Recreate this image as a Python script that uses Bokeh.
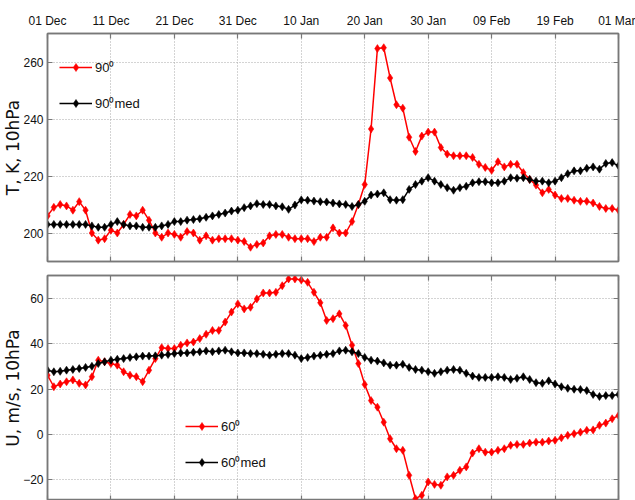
import numpy as np
from bokeh.plotting import figure
from bokeh.layouts import column
from bokeh.models import Range1d, LinearAxis, Legend, LegendItem
from bokeh.embed import file_html
from bokeh.resources import INLINE

# ---------------- data (daily, 01 Dec .. 01 Mar) ----------------
tick_days = [0, 10, 20, 30, 40, 50, 60, 70, 80, 90]
tick_labels = ["01 Dec", "11 Dec", "21 Dec", "31 Dec", "10 Jan",
               "20 Jan", "30 Jan", "09 Feb", "19 Feb", "01 Mar"]

t_ticks = [200, 220, 240, 260]
u_ticks = [-20, 0, 20, 40, 60]

t90 = [206, 209, 210, 209.5, 208, 211, 208, 200, 197.5, 198,
       201, 200, 203, 206.5, 206, 208, 204.5, 200, 198.5, 200,
       199.5, 198.5, 200.5, 200, 197.5, 199, 197.5, 198, 198, 198,
       197.5, 197, 195, 196, 196.5, 199, 199.5, 199.5, 198.5, 198,
       198, 198, 197, 198.5, 198.5, 201.8, 200, 200, 204, 210,
       217, 236.5, 264.7, 265, 254.4, 245, 243.8, 233.6, 228.6, 234,
       235.4, 235.4, 230, 227.7, 227.1, 227.1, 227.1, 226.5, 224.1, 223,
       222, 225, 223.2, 224.1, 224.1, 221.2, 218.8, 216.8, 214.1, 215.3,
       213.3, 212.1, 212.1, 211.5, 211.1, 211.1, 210.5, 209.3, 208.6, 208.6,
       208]

t90_med = [203, 203, 203, 203, 203, 203, 203, 202.5, 202, 202,
           203, 204, 203, 202.5, 202.5, 202, 202, 202, 202.5, 203,
           204, 204, 204.5, 204.7, 205, 205.5, 206, 206.5, 207, 207.7,
           208, 208.9, 209.5, 210.3, 210, 210, 209.5, 209.2, 208.3, 209.8,
           211.6, 211.5, 211.2, 211, 210.9, 210.5, 210.2, 210, 209.3, 210,
           211.1, 213.3, 213.7, 214.1, 211.7, 211.5, 211.7, 215.3, 217, 218.2,
           219.4, 218.2, 217, 215.9, 215, 215.9, 216.4, 217.6, 218, 218,
           217.6, 217.6, 218.2, 219.4, 219.2, 219.4, 218.8, 218.2, 218.2, 217.6,
           218.2, 219.4, 220.8, 221.8, 221.8, 222.7, 223.2, 222.4, 224.4, 224.7,
           223.6]

u60 = [26.1, 21, 22.2, 23.2, 24, 22.5, 21.8, 25.4, 32.7, 32,
       31.2, 30.5, 27.6, 26.1, 25.4, 23.2, 28.3, 33.4, 38.2, 37.8,
       37.8, 39.3, 40.3, 40.7, 42.2, 44.1, 45.8, 45.8, 49.5, 53.9,
       57.5, 55.3, 56, 59.7, 62.3, 62.3, 62.6, 65.5, 68.5, 68.5,
       68, 67, 62.6, 58, 50.2, 51, 53.1, 48, 39.3, 31.2,
       22, 14.9, 12, 5.4, -1.9, -6.3, -7, -18, -28.3, -26.8,
       -20.9, -22, -22.4, -18.7, -18, -15.8, -14.3, -8.2, -6.3, -7.8,
       -7.8, -7, -6.3, -4.8, -4.4, -4.4, -3.8, -3.4, -3.4, -2.9,
       -2.6, -1.5, -0.4, 0.3, 1, 1.8, 2, 4, 5, 6.9,
       8.3]

u60_med = [28.3, 27.6, 27.8, 28.3, 28.6, 29, 29.5, 30, 31.2, 32,
           32.7, 33.1, 33.4, 33.9, 34.2, 34.5, 34.5, 34.6, 34.9, 35.2,
           35.6, 35.9, 35.9, 36.2, 36.4, 36.8, 36.4, 36.8, 37.1, 36.4,
           35.9, 35.9, 35.6, 35.6, 35.3, 34.9, 35.3, 35.6, 35.6, 34.9,
           33.4, 33.9, 34.5, 34.9, 35.3, 35.6, 36.8, 37.1, 36.4, 35.6,
           33.9, 32.7, 32.3, 31.5, 30.5, 30.5, 30.9, 29.5, 28.6, 28.3,
           27.6, 26.9, 27.6, 28.3, 28.6, 28.3, 26.9, 25.7, 25.1, 25.1,
           25.1, 25.4, 25.1, 24.2, 24.7, 25.4, 24.2, 22.8, 22.5, 23.6,
           22.2, 21, 20.3, 19.9, 19.8, 19.3, 17.6, 16.7, 17.1, 17.1,
           17.6]

days = np.arange(len(t90))

# ---------------- styling ----------------
FRAME = "#787878"
GRID = "#a8a8a8"
SANS = "Liberation Sans"


def make_panel(height, top, bottom, yr, yticks, ylabel, show_top_labels):
    p = figure(width=635, height=height, x_range=Range1d(0, 90),
               y_range=Range1d(*yr), x_axis_location="above",
               y_axis_location="left", output_backend="svg",
               toolbar_location=None, min_border_left=44,
               min_border_right=17, min_border_top=top,
               min_border_bottom=bottom)
    p.add_layout(LinearAxis(), "below")
    p.add_layout(LinearAxis(), "right")
    p.xaxis.ticker = tick_days
    p.xaxis.major_label_overrides = {d: l for d, l in zip(tick_days, tick_labels)}
    p.yaxis.ticker = yticks
    for ax in p.axis:
        ax.axis_line_color = FRAME
        ax.axis_line_width = 1.5
        ax.major_tick_line_color = FRAME
        ax.major_tick_line_width = 1.2
        ax.major_tick_in = 5
        ax.major_tick_out = 0
        ax.minor_tick_line_color = None
        ax.major_label_text_font = SANS
        ax.major_label_text_font_size = "12px"
        ax.major_label_text_color = "#111111"
    hidden = [p.below[0], p.right[0]]
    if not show_top_labels:
        hidden.append(p.above[0])
    for ax in hidden:
        ax.major_label_text_color = None
        ax.major_label_text_font_size = "1px"
        ax.major_label_standoff = 0
    if show_top_labels:
        p.above[0].major_label_standoff = 6
    la = p.left[0]
    la.major_label_standoff = 4
    la.axis_label = ylabel
    la.axis_label_text_font = "DejaVu Sans"
    la.axis_label_text_font_size = "17px"
    la.axis_label_text_font_style = "normal"
    la.axis_label_text_color = "#111111"
    la.axis_label_standoff = -3
    p.grid.grid_line_color = GRID
    p.grid.grid_line_dash = "1 2"
    p.grid.grid_line_width = 1
    p.outline_line_color = FRAME
    p.outline_line_width = 1.5
    p.background_fill_color = "white"
    p.border_fill_color = "white"
    return p


def add_series(p, y, color):
    ln = p.line(days, y, line_color=color, line_width=1.5)
    sc = p.scatter(days, y, marker="diamond", size=8, fill_color=color,
                   line_color=color, line_width=0.6)
    return [ln, sc]


top = make_panel(268, 33, 7, (190, 270), t_ticks, "T, K, 10hPa", True)
r1 = add_series(top, t90, "#ff0000")
r2 = add_series(top, t90_med, "#000000")
leg1 = Legend(items=[LegendItem(label="90\u2070", renderers=r1),
                     LegendItem(label="90\u2070med", renderers=r2)],
              location=(12, 148))
top.add_layout(leg1)

bot = make_panel(232, 7, 0, (-29.1, 70), u_ticks, "U, m/s, 10hPa", False)
r3 = add_series(bot, u60, "#ff0000")
r4 = add_series(bot, u60_med, "#000000")
leg2 = Legend(items=[LegendItem(label="60\u2070", renderers=r3),
                     LegendItem(label="60\u2070med", renderers=r4)],
              location=(138, 28))
bot.add_layout(leg2)

for lg in (leg1, leg2):
    lg.padding = 0
    lg.margin = 0
    lg.spacing = 16
    lg.glyph_width = 33
    lg.glyph_height = 20
    lg.label_standoff = 3
    lg.label_height = 20
    lg.border_line_alpha = 0
    lg.background_fill_alpha = 0
    lg.label_text_font = SANS
    lg.label_text_font_size = "13px"
    lg.label_text_baseline = "top"
    lg.label_text_color = "#111111"

layout = column(top, bot)
open("out.html", "w").write(file_html(layout, INLINE))
